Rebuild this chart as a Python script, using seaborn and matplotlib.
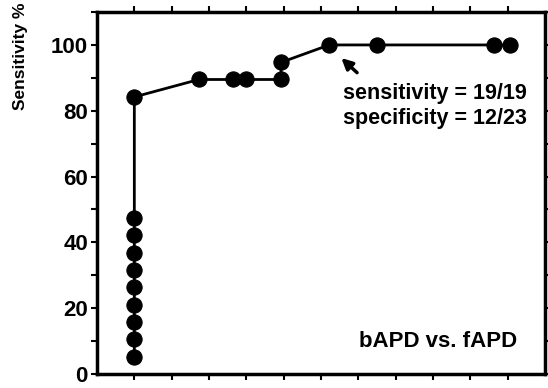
import matplotlib
matplotlib.use("Agg")
import matplotlib.pyplot as plt
import seaborn as sns
import pandas as pd

# ---- data ----
step_x = [1, 1, 1, 1, 1, 1, 1, 1, 1, 1, 2.73, 3.65, 4.0, 4.93, 4.93, 6.22, 7.5, 10.64, 11.05]
sensitivity = [5.3, 10.5, 15.8, 21.1, 26.3, 31.6, 36.8, 42.1, 47.4, 84.2,
               89.5, 89.5, 89.5, 89.5, 94.7, 100, 100, 100, 100]
y_ticks = [0, 10, 20, 30, 40, 50, 60, 70, 80, 90, 100, 110]
y_ticklabels = ["0", "", "20", "", "40", "", "60", "", "80", "", "100", ""]
x_ticks = [1, 2, 3, 4, 5, 6, 7, 8, 9, 10, 11]
note_lines = ["sensitivity = 19/19", "specificity = 12/23"]
panel_label = "bAPD vs. fAPD"
y_label = "Sensitivity %"

sns.set_style("ticks")
plt.rcParams["font.family"] = ["Liberation Sans", "DejaVu Sans"]
plt.rcParams["text.color"] = "black"
plt.rcParams["axes.labelcolor"] = "black"

df = pd.DataFrame({"x": step_x, "y": sensitivity})

fig = plt.figure(figsize=(5.48, 3.88), dpi=100)
ax = fig.add_axes([0.177, 0.036, 0.8175, 0.933])

sns.lineplot(data=df, x="x", y="y", sort=False, estimator=None, marker="o",
             markersize=11, color="black", linewidth=2.0,
             markeredgecolor="black", ax=ax)

ax.set_xlim(0, 12)
ax.set_ylim(0, 110)
ax.set_xticks(x_ticks)
ax.set_xticklabels([])
ax.set_yticks(y_ticks)
ax.set_yticklabels(y_ticklabels)
ax.tick_params(direction="out", length=4, width=1.5, top=True, right=True,
               labelsize=16, pad=2.5, colors="black")
for lbl in ax.get_yticklabels():
    lbl.set_fontweight("bold")
for sp in ax.spines.values():
    sp.set_visible(True)
    sp.set_linewidth(2.5)
    sp.set_color("black")
ax.set_xlabel("")
ax.set_ylabel("")

fig.text(21 / 548, 1 - 56 / 388, y_label, rotation=90, ha="center", va="center",
         fontsize=12.5, fontweight="bold", color="black")

ax.text(6.59, 83.6, note_lines[0], fontsize=15.5, fontweight="bold", va="baseline", color="black")
ax.text(6.59, 76.0, note_lines[1], fontsize=15.5, fontweight="bold", va="baseline", color="black")
ax.annotate("", xy=(6.49, 96.6), xytext=(7.02, 91.0),
            arrowprops=dict(arrowstyle="-|>", color="black", lw=2.5, mutation_scale=16))
ax.text(11.25, 8.2, panel_label, ha="right", va="baseline", fontsize=16,
        fontweight="bold", color="black")

fig.savefig("out.png", dpi=100)
